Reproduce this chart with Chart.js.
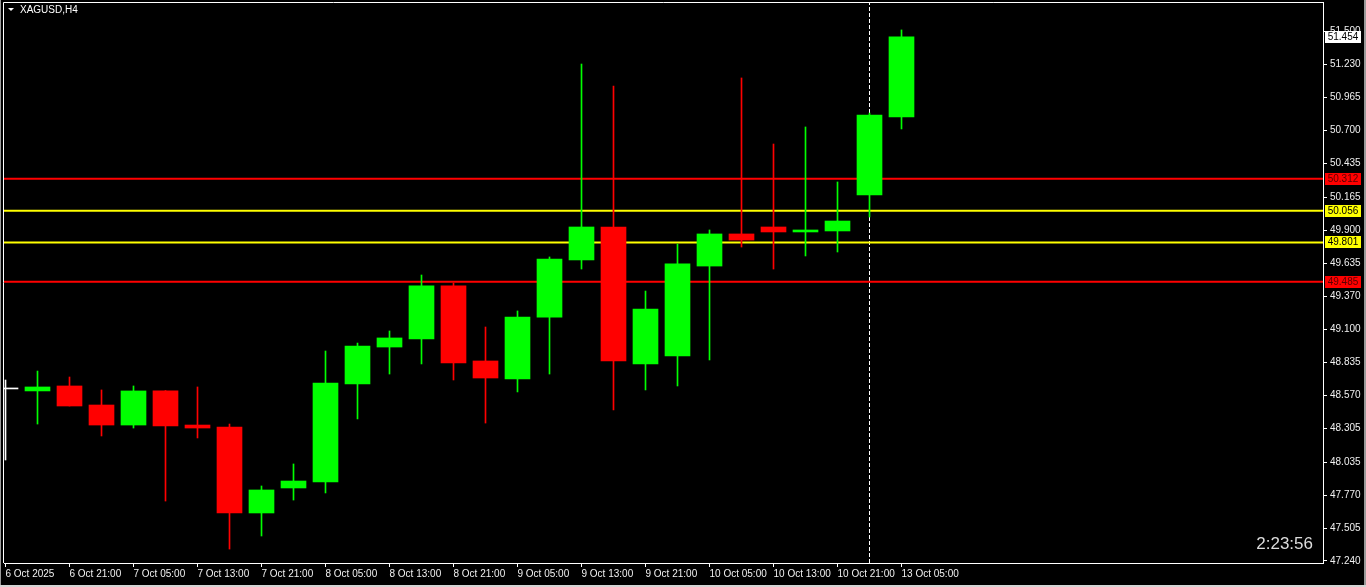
<!DOCTYPE html>
<html>
<head>
<meta charset="utf-8">
<title>XAGUSD,H4</title>
<script src="https://cdn.jsdelivr.net/npm/chart.js@4.4.1/dist/chart.umd.min.js"></script>
<style>
    html, body { margin: 0; padding: 0; background: #000; overflow: hidden; }
    #wrap { position: relative; width: 1366px; height: 587px; }
</style>
</head>
<body>
<div id="wrap"><canvas id="chart" width="1366" height="587"></canvas></div>
<script>
// H4 candles (index 0 is the clipped bar at the left edge)
const OPEN  = [48.623, 48.607, 48.647, 48.494, 48.333, 48.607, 48.333, 48.317, 47.626, 47.827,
               47.875, 48.663, 48.960, 49.025, 49.451, 48.848, 48.703, 49.201, 49.660, 49.925,
               48.824, 48.888, 49.611, 49.869, 49.925, 49.885, 49.893, 50.182, 50.809];
const HIGH  = [48.695, 48.767, 48.719, 48.615, 48.647, 48.610, 48.639, 48.341, 47.843, 48.020,
               48.928, 48.992, 49.089, 49.539, 49.475, 49.121, 49.250, 49.684, 51.235, 51.058,
               49.410, 49.788, 49.901, 51.123, 50.592, 50.729, 50.287, 50.841, 51.509];
const LOW   = [48.052, 48.341, 48.486, 48.245, 48.309, 47.722, 48.229, 47.336, 47.441, 47.730,
               47.787, 48.382, 48.743, 48.824, 48.695, 48.349, 48.599, 48.743, 49.587, 48.454,
               48.615, 48.647, 48.856, 49.764, 49.587, 49.692, 49.724, 50.005, 50.713];
const CLOSE = [48.623, 48.639, 48.486, 48.333, 48.607, 48.325, 48.309, 47.626, 47.811, 47.883,
               48.671, 48.968, 49.033, 49.451, 48.832, 48.711, 49.201, 49.668, 49.925, 48.848,
               49.266, 49.628, 49.869, 49.820, 49.885, 49.901, 49.973, 50.825, 51.454];

const X_TICK_IDX = [0, 2, 4, 6, 8, 10, 12, 14, 16, 18, 20, 22, 24, 26, 28];
const X_LABELS = ['6 Oct 2025', '6 Oct 21:00', '7 Oct 05:00', '7 Oct 13:00', '7 Oct 21:00',
                  '8 Oct 05:00', '8 Oct 13:00', '8 Oct 21:00', '9 Oct 05:00', '9 Oct 13:00',
                  '9 Oct 21:00', '10 Oct 05:00', '10 Oct 13:00', '10 Oct 21:00', '13 Oct 05:00'];
const Y_TICKS = [51.500, 51.230, 50.965, 50.700, 50.435, 50.165, 49.900, 49.635, 49.370,
                 49.100, 48.835, 48.570, 48.305, 48.035, 47.770, 47.505, 47.240];

const RED_LEVELS = [50.312, 49.485];
const YELLOW_LEVELS = [50.056, 49.801];
const BID = 51.454;
const CURSOR_IDX = 27;
const CLOCK = '2:23:56';
const SYMBOL = 'XAGUSD,H4';

// visible window of the chart
const X_MIN = -1.5 / 32;
const X_MAX = X_MIN + 1319 / 32;
const Y_MIN = 47.2239;
const Y_MAX = 51.7336;

const BULL = '#00ff00';
const BEAR = '#ff0000';
const TEXT = '#f0f0f0';
const FONT = "'Liberation Sans', Arial, sans-serif";

function candleColor(i) {
    if (i === 0) return '#ffffff';
    return CLOSE[i] >= OPEN[i] ? BULL : BEAR;
}

function levelLine(v, color) {
    return {
        type: 'line',
        data: [{ x: X_MIN, y: v }, { x: X_MAX, y: v }],
        borderColor: color,
        borderWidth: 2,
        pointRadius: 0,
        order: 3
    };
}

const decor = {
    id: 'decor',
    beforeDraw(chart) {
        const c = chart.ctx;
        c.save();
        c.fillStyle = '#000';
        c.fillRect(0, 0, chart.width, chart.height);
        c.restore();
    },
    afterDraw(chart) {
        const c = chart.ctx;
        const area = chart.chartArea;
        const ys = chart.scales.y;
        c.save();

        // window frame
        c.fillStyle = '#9a9a9a';
        c.fillRect(0, 0, 1, chart.height);
        c.fillRect(1364, 0, 2, chart.height);
        c.fillStyle = '#d4d4d4';
        c.fillRect(0, 585, chart.width, 2);
        c.strokeStyle = '#ffffff';
        c.lineWidth = 1;
        c.beginPath();
        c.moveTo(3.5, area.bottom);
        c.lineTo(3.5, area.top + 0.5);
        c.lineTo(area.right, area.top + 0.5);
        c.stroke();

        // price labels on the axis
        const boxes = [];
        RED_LEVELS.forEach(v => boxes.push({ v, bg: BEAR, fg: '#5a0000' }));
        YELLOW_LEVELS.forEach(v => boxes.push({ v, bg: '#ffff00', fg: '#000' }));
        boxes.push({ v: BID, bg: '#ffffff', fg: '#000' });
        c.font = '10px ' + FONT;
        c.textAlign = 'center';
        c.textBaseline = 'middle';
        boxes.forEach(b => {
            const y = Math.round(ys.getPixelForValue(b.v));
            c.fillStyle = b.bg;
            c.fillRect(1325, y - 6, 36, 12);
            c.fillStyle = b.fg;
            c.fillText(b.v.toFixed(3), 1343, y + 0.5);
        });

        // symbol caption
        c.fillStyle = '#ffffff';
        c.beginPath();
        c.moveTo(8, 8);
        c.lineTo(14, 8);
        c.lineTo(11, 11);
        c.closePath();
        c.fill();
        c.textAlign = 'left';
        c.fillText(SYMBOL, 20, 10);

        // bar countdown
        c.font = '17px ' + FONT;
        c.textAlign = 'right';
        c.fillStyle = '#dcdcdc';
        c.fillText(CLOCK, 1313, 544);
        c.restore();
    }
};

const ctx = document.getElementById('chart');
new Chart(ctx, {
    type: 'bar',
    data: {
        datasets: [
            {
                label: 'wick',
                data: OPEN.map((o, i) => ({ x: i, y: [LOW[i], HIGH[i]] })),
                backgroundColor: c => candleColor(c.dataIndex),
                barThickness: 1,
                grouped: false,
                order: 2
            },
            {
                label: 'body',
                data: OPEN.map((o, i) => ({ x: i, y: [o, CLOSE[i]] })),
                backgroundColor: c => candleColor(c.dataIndex),
                barThickness: 25,
                minBarLength: 1,
                grouped: false,
                order: 1
            },
            ...RED_LEVELS.map(v => levelLine(v, BEAR)),
            ...YELLOW_LEVELS.map(v => levelLine(v, '#ffff00')),
            {
                type: 'line',
                data: [{ x: CURSOR_IDX, y: Y_MIN }, { x: CURSOR_IDX, y: Y_MAX }],
                borderColor: '#ffffff',
                borderWidth: 1,
                borderDash: [4, 2],
                pointRadius: 0,
                order: 3
            }
        ]
    },
    options: {
        responsive: false,
        animation: false,
        events: [],
        layout: { padding: { left: 4, top: 2, right: 0, bottom: 0 } },
        plugins: {
            legend: { display: false },
            tooltip: { enabled: false }
        },
        scales: {
            x: {
                type: 'linear',
                offset: false,
                min: X_MIN,
                max: X_MAX,
                afterBuildTicks: s => { s.ticks = X_TICK_IDX.map(v => ({ value: v })); },
                afterFit: s => {
                    s.height = 24;
                    s.paddingLeft = 0;
                    s.paddingRight = 0;
                },
                ticks: {
                    autoSkip: false,
                    maxRotation: 0,
                    align: 'start',
                    padding: 1,
                    color: TEXT,
                    font: { family: FONT, size: 10 },
                    callback: (v, i) => X_LABELS[i]
                },
                grid: { offset: false, drawOnChartArea: false, color: '#ffffff', tickLength: 4 },
                border: { color: '#ffffff' }
            },
            y: {
                type: 'linear',
                position: 'right',
                min: Y_MIN,
                max: Y_MAX,
                afterBuildTicks: s => { s.ticks = Y_TICKS.map(v => ({ value: v })); },
                afterFit: s => {
                    s.width = 43;
                    s.paddingTop = 0;
                    s.paddingBottom = 0;
                },
                ticks: {
                    autoSkip: false,
                    padding: 3,
                    color: TEXT,
                    font: { family: FONT, size: 10 },
                    callback: v => v.toFixed(3)
                },
                grid: { drawOnChartArea: false, color: '#ffffff', tickLength: 4 },
                border: { color: '#ffffff' }
            }
        }
    },
    plugins: [decor]
});
</script>
</body>
</html>
